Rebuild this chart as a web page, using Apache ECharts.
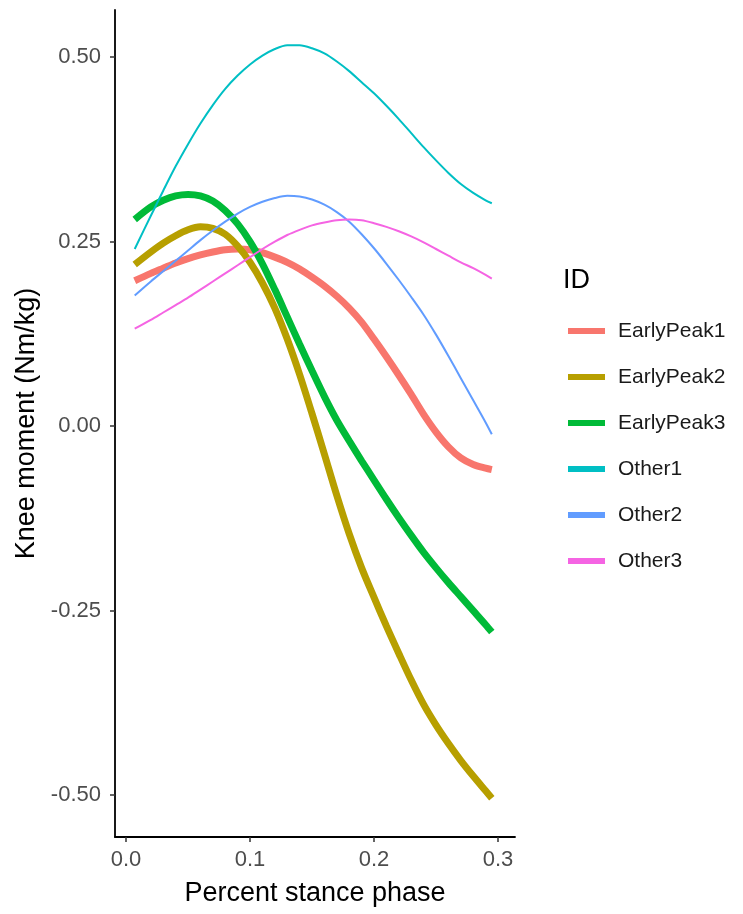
<!DOCTYPE html>
<html>
<head>
<meta charset="utf-8">
<script src="https://cdn.jsdelivr.net/npm/echarts@6/dist/echarts.min.js"></script>
<style>html,body{margin:0;padding:0;background:#fff}#c{width:743px;height:914px}</style>
</head>
<body>
<div id="c"></div>
<script>
const xValues = [0.007,0.02,0.03,0.04,0.05,0.06,0.07,0.08,0.09,0.10,0.11,0.12,0.13,0.14,0.15,0.16,0.17,0.18,0.19,0.20,0.21,0.22,0.23,0.24,0.25,0.26,0.27,0.28,0.29,0.295];
const earlyPeak1 = [0.197,0.207,0.214,0.221,0.227,0.232,0.236,0.239,0.240,0.239,0.235,0.229,0.222,0.213,0.202,0.190,0.176,0.160,0.141,0.118,0.094,0.069,0.043,0.016,-0.008,-0.028,-0.043,-0.052,-0.057,-0.059];
const earlyPeak2 = [0.219,0.236,0.248,0.258,0.266,0.270,0.268,0.260,0.244,0.222,0.194,0.160,0.118,0.070,0.017,-0.038,-0.094,-0.146,-0.192,-0.232,-0.271,-0.308,-0.344,-0.377,-0.405,-0.430,-0.453,-0.474,-0.494,-0.504];
const earlyPeak3 = [0.280,0.297,0.306,0.312,0.314,0.312,0.305,0.292,0.274,0.250,0.220,0.185,0.148,0.111,0.075,0.040,0.008,-0.020,-0.047,-0.073,-0.099,-0.124,-0.148,-0.171,-0.192,-0.212,-0.231,-0.250,-0.269,-0.279];
const other1 = [0.240,0.285,0.319,0.352,0.382,0.410,0.435,0.457,0.475,0.490,0.502,0.511,0.516,0.516,0.512,0.505,0.494,0.481,0.466,0.451,0.434,0.416,0.397,0.378,0.360,0.343,0.328,0.316,0.306,0.302];
const other2 = [0.177,0.196,0.210,0.224,0.238,0.252,0.265,0.277,0.288,0.297,0.304,0.309,0.312,0.311,0.307,0.300,0.290,0.277,0.260,0.241,0.220,0.198,0.175,0.151,0.124,0.095,0.065,0.035,0.005,-0.011];
const other3 = [0.132,0.144,0.154,0.164,0.174,0.185,0.196,0.207,0.218,0.229,0.240,0.250,0.259,0.266,0.272,0.276,0.279,0.280,0.279,0.275,0.270,0.264,0.257,0.249,0.240,0.231,0.222,0.214,0.205,0.200];
const seriesNames = ['EarlyPeak1','EarlyPeak2','EarlyPeak3','Other1','Other2','Other3'];
const xTicks = [0, 0.1, 0.2, 0.3];
const yTicks = [-0.5, -0.25, 0, 0.25, 0.5];

const allSeries = [earlyPeak1, earlyPeak2, earlyPeak3, other1, other2, other3];
const colors = ['#F8766D','#B79F00','#00BA38','#00BFC4','#619CFF','#F564E3'];
const widths = [7,7,7,2,2,2];
const FONT = '"Liberation Sans", Arial, sans-serif';

const chart = echarts.init(document.getElementById('c'), null, {renderer: 'canvas'});
chart.setOption({
  animation: false,
  backgroundColor: '#ffffff',
  color: colors,
  textStyle: {fontFamily: FONT},
  title: {
    text: 'ID', left: 558, top: 262,
    textStyle: {fontFamily: FONT, fontSize: 27, fontWeight: 'normal', color: '#000'}
  },
  legend: {
    orient: 'vertical', left: 563, top: 314,
    itemWidth: 37, itemHeight: 6, itemGap: 22, icon: 'rect',
    data: seriesNames,
    textStyle: {fontFamily: FONT, fontSize: 21, color: '#1a1a1a', lineHeight: 24, padding: [0,0,0,8]}
  },
  grid: {left: 115, right: 228, top: 10, bottom: 77, containLabel: false},
  xAxis: {
    type: 'value', min: -0.0089, max: 0.3137,
    name: 'Percent stance phase', nameLocation: 'middle', nameGap: 43,
    nameTextStyle: {fontFamily: FONT, fontSize: 27, color: '#000'},
    axisLine: {show: true, onZero: false, lineStyle: {color: '#000', width: 1.8}},
    axisTick: {show: true, length: 5, customValues: xTicks, lineStyle: {color: '#333', width: 1.5}},
    axisLabel: {customValues: xTicks, margin: 12, fontFamily: FONT, fontSize: 22, color: '#4D4D4D',
      formatter: v => Number(v).toFixed(1)},
    splitLine: {show: false}
  },
  yAxis: {
    type: 'value', min: -0.5566, max: 0.5638,
    name: 'Knee moment (Nm/kg)', nameLocation: 'middle', nameGap: 75,
    nameTextStyle: {fontFamily: FONT, fontSize: 27, color: '#000'},
    axisLine: {show: true, onZero: false, lineStyle: {color: '#000', width: 1.8}},
    axisTick: {show: true, length: 5, customValues: yTicks, lineStyle: {color: '#333', width: 1.5}},
    axisLabel: {customValues: yTicks, margin: 14, fontFamily: FONT, fontSize: 22, color: '#4D4D4D',
      formatter: v => Number(v).toFixed(2)},
    splitLine: {show: false}
  },
  series: seriesNames.map((name, i) => ({
    name: name, type: 'line', smooth: 0.3, showSymbol: false, symbol: 'none',
    data: xValues.map((x, j) => [x, allSeries[i][j]]),
    lineStyle: {width: widths[i], color: colors[i], cap: 'butt'},
    itemStyle: {color: colors[i]},
    z: 2
  }))
});
</script>
</body>
</html>
